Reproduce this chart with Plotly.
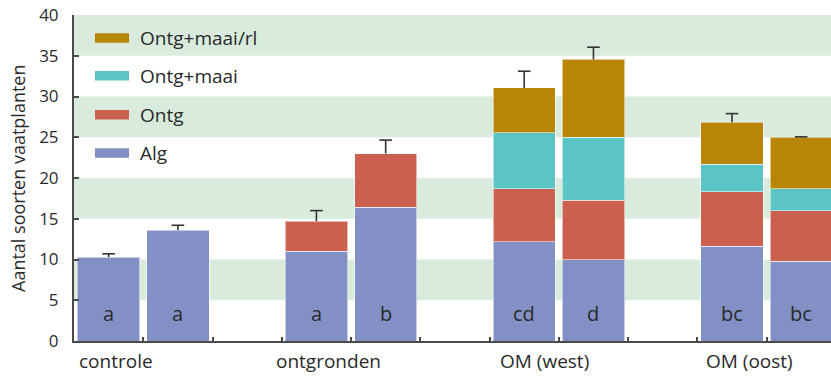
import numpy as np
import plotly.graph_objects as go

# ---- data ----
groups = ["controle", "ontgronden", "OM (west)", "OM (oost)"]
bars_per_group = 2
series_names = ["Alg", "Ontg", "Ontg+maai", "Ontg+maai/rl"]
alg = [10.3, 13.6, 11.0, 16.4, 12.15, 9.95, 11.6, 9.8]
ontg = [None, None, 3.7, 6.6, 6.55, 7.3, 6.7, 6.2]
ontg_maai = [None, None, None, None, 6.85, 7.75, 3.4, 2.7]
ontg_maai_rl = [None, None, None, None, 5.5, 9.55, 5.15, 6.3]
err_upper = [0.4, 0.6, 1.3, 1.65, 2.05, 1.5, 1.05, 0.05]
letters = ["a", "a", "a", "b", "cd", "d", "bc", "bc"]
y_ticks = [0, 5, 10, 15, 20, 25, 30, 35, 40]

colors = ["#8390C6", "#CC604E", "#5BC4C4", "#B88607"]
band_color = "#D8EBDD"
text_color = "#2a2a2a"
axis_color = "#4a4a4a"
err_color = "#333333"
FONT = "Open Sans"

# bar positions: two bars per group, one empty slot between groups
x_pos = [g * (bars_per_group + 1) + b for g in range(len(groups)) for b in range(bars_per_group)]
series = [alg, ontg, ontg_maai, ontg_maai_rl]
totals = np.nansum(np.array([[np.nan if v is None else v for v in s] for s in series], dtype=float), axis=0)
err_tops = totals + np.array(err_upper)

fig = go.Figure()

for name, vals, col in zip(series_names, series, colors):
    fig.add_trace(go.Bar(
        x=x_pos, y=vals, name=name, width=0.9,
        marker=dict(color=col, line=dict(color="rgba(255,255,255,0.55)", width=1)),
        showlegend=False,
    ))

# error bars (upper only): stems + caps
stem_x, stem_y = [], []
for xp, t0, t1 in zip(x_pos, totals, err_tops):
    stem_x += [xp, xp, None]
    stem_y += [t0, t1, None]
fig.add_trace(go.Scatter(x=stem_x, y=stem_y, mode="lines",
                         line=dict(color=err_color, width=1.6),
                         showlegend=False, hoverinfo="skip"))
fig.add_trace(go.Scatter(x=x_pos, y=err_tops, mode="markers",
                         marker=dict(symbol="line-ew", size=9,
                                     line=dict(color=err_color, width=1.6)),
                         showlegend=False, hoverinfo="skip"))

# horizontal green bands
shapes = []
for lo in range(5, 40, 10):
    shapes.append(dict(type="rect", xref="paper", yref="y", x0=0, x1=1, y0=lo, y1=lo + 5,
                       fillcolor=band_color, line=dict(width=0), layer="below"))

annotations = []
# letters in the bars
for xp, t in zip(x_pos, letters):
    annotations.append(dict(x=xp, y=3.4, xref="x", yref="y", text=t, showarrow=False,
                            font=dict(family=FONT, size=20, color=text_color)))

# group labels
label_x = [0.1, 3.17, 6.3, 9.25]
for lx, g in zip(label_x, groups):
    annotations.append(dict(x=lx, y=-0.062, xref="x", yref="paper", text=g, showarrow=False,
                            yanchor="middle", font=dict(family=FONT, size=19, color=text_color)))

# y title
annotations.append(dict(x=-0.074, y=0.5, xref="paper", yref="paper", xanchor="center",
                        yanchor="middle",
                        text="Aantal soorten vaatplanten", textangle=-90, showarrow=False,
                        font=dict(family=FONT, size=18, color=text_color)))

# manual legend (top to bottom)
legend_order = list(zip(series_names, colors))[::-1]
leg_y = [0.9294, 0.8138, 0.6942, 0.5767]
for (name, col), ly in zip(legend_order, leg_y):
    shapes.append(dict(type="rect", xref="paper", yref="paper", x0=0.0277, x1=0.0727,
                       y0=ly - 0.0144, y1=ly + 0.0144, fillcolor=col, line=dict(width=0)))
    annotations.append(dict(x=0.0845, y=ly, xref="paper", yref="paper", text=name,
                            xanchor="left", yanchor="middle", showarrow=False,
                            font=dict(family=FONT, size=19, color=text_color)))

fig.update_layout(
    barmode="stack",
    width=831, height=376,
    margin=dict(l=74, r=0, t=15, b=35),
    plot_bgcolor="white", paper_bgcolor="white",
    shapes=shapes, annotations=annotations,
    showlegend=False,
    font=dict(family=FONT, color=text_color),
    xaxis=dict(range=[-0.5, 10.43], tickvals=[i + 0.5 for i in range(10)], ticktext=[""] * 10,
               ticks="inside", ticklen=4, tickwidth=1.5, tickcolor=axis_color,
               showline=True, linecolor=axis_color, linewidth=2, showgrid=False,
               zeroline=False, fixedrange=True),
    yaxis=dict(range=[0, 40], tickvals=y_ticks, ticks="inside", ticklen=5, tickwidth=1.5,
               tickcolor=axis_color, showline=True, linecolor=axis_color, linewidth=2,
               showgrid=False, zeroline=False, ticklabelstandoff=10,
               tickfont=dict(family=FONT, size=17, color=text_color)),
)

fig.write_html("out.html", config={"displayModeBar": False},
               post_script="document.body.style.margin='0';document.body.style.overflow='hidden';")
